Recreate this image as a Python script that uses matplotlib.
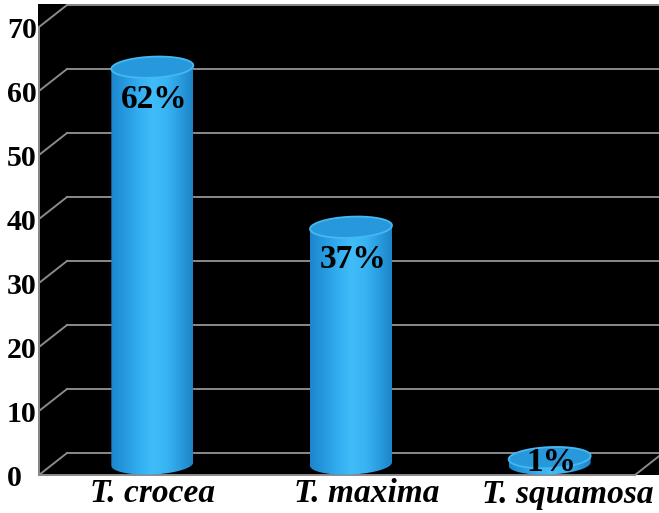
import numpy as np
import matplotlib
matplotlib.use("Agg")
import matplotlib.pyplot as plt
from matplotlib.patches import Polygon, Rectangle
from matplotlib.colors import LinearSegmentedColormap

categories = ["T. crocea", "T. maxima", "T. squamosa"]
values = [62, 37, 1]
value_labels = ["62%", "37%", "1%"]
yticks = [0, 10, 20, 30, 40, 50, 60, 70]

W, H = 659, 513
fig = plt.figure(figsize=(W / 100, H / 100), dpi=100)
ax = fig.add_axes([0, 0, 1, 1])
ax.set_axis_off()

# pixel scale helpers (used to set limits only)
px_x = 596 / 3.0      # pixels per category unit
px_y = 6.4            # pixels per value unit
x0 = -0.5 - 39 / px_x
x1 = 2.5 + (W - 635) / px_x
y0 = -(H - 475) / px_y
y1 = 475 / px_y
ax.set_xlim(x0, x1)
ax.set_ylim(y0, y1)

Dx = 28 / px_x        # depth shift in x
Dy = 22 / px_y        # depth shift in y

# black box background
ax.add_patch(Rectangle((-0.5 - 1.5 / px_x, 0), x1 + 1 - (-0.5), 73.6,
                       facecolor="black", edgecolor="none", zorder=0))

grid_c = "#8a8a8a"
lw = 1.4
for v in yticks:
    ax.plot([-0.5 + Dx, x1 + 0.1], [v + Dy, v + Dy], color=grid_c, lw=lw, zorder=1)
    ax.plot([-0.5, -0.5 + Dx], [v, v + Dy], color=grid_c, lw=lw, zorder=1)
# left wall front edge and floor front edge
ax.plot([-0.5, -0.5], [0, max(yticks)], color=grid_c, lw=lw, zorder=1)
ax.plot([-0.5, 2.5], [0, 0], color=grid_c, lw=lw, zorder=1)
ax.plot([2.5, 2.5 + Dx], [0, Dy], color=grid_c, lw=lw, zorder=1)

# cylinders
a = 41 / px_x
b = 10.5 / px_y
shear = 1.3   # y-units per x-unit tilt
cmap = LinearSegmentedColormap.from_list(
    "cyl", ["#1c86cc", "#2699df", "#32adef", "#40bcf9", "#3ab5f4", "#2b9ee2", "#1d84c6"])
top_c = "#2798dc"

t = np.linspace(0, 2 * np.pi, 200)
for i, v in enumerate(values):
    cx = i + Dx / 2
    yb = Dy / 2
    yt = v + Dy / 2
    ex = a * np.cos(t)
    ey = b * np.sin(t) + shear * ex
    tl = np.linspace(np.pi, 2 * np.pi, 100)
    bx = cx + a * np.cos(tl)
    by = yb + b * np.sin(tl) + shear * a * np.cos(tl)
    tx = bx[::-1]
    ty = yt + b * np.sin(tl[::-1]) + shear * a * np.cos(tl[::-1])
    body = Polygon(np.column_stack([np.r_[bx, tx], np.r_[by, ty]]),
                   closed=True, facecolor="none", edgecolor="none", zorder=3)
    ax.add_patch(body)
    grad = np.linspace(0, 1, 256).reshape(1, -1)
    im = ax.imshow(grad, cmap=cmap, aspect="auto",
                   extent=[cx - a, cx + a, yb - b - shear * a - 1, yt + b + shear * a + 1],
                   zorder=3, interpolation="bilinear")
    im.set_clip_path(body)
    ax.add_patch(Polygon(np.column_stack([cx + ex, yt + ey]), closed=True,
                         facecolor=top_c, edgecolor="#45b8f2", lw=1.3, zorder=4))
    ly = max(yt - 5.0, yb + 0.3)
    ax.text(cx + 0.01, ly, value_labels[i], ha="center", va="center",
            fontsize=24, fontweight="bold", family="Liberation Serif",
            color="black", zorder=5)

# y tick labels
for v in yticks:
    ax.text(x0 + 7 / px_x, v - 0.5, str(v), ha="left", va="center",
            fontsize=21.5, fontweight="bold", family="Liberation Serif", color="black")

# category labels
nudges = [0.0, 0.08, 0.09]
for i, c in enumerate(categories):
    ax.text(i + Dx / 2 + nudges[i], y0 + 19 / px_y, c, ha="center", va="center",
            fontsize=24, fontweight="bold", fontstyle="italic",
            family="Liberation Serif", color="black")

fig.savefig("out.png", dpi=100, facecolor="white")
